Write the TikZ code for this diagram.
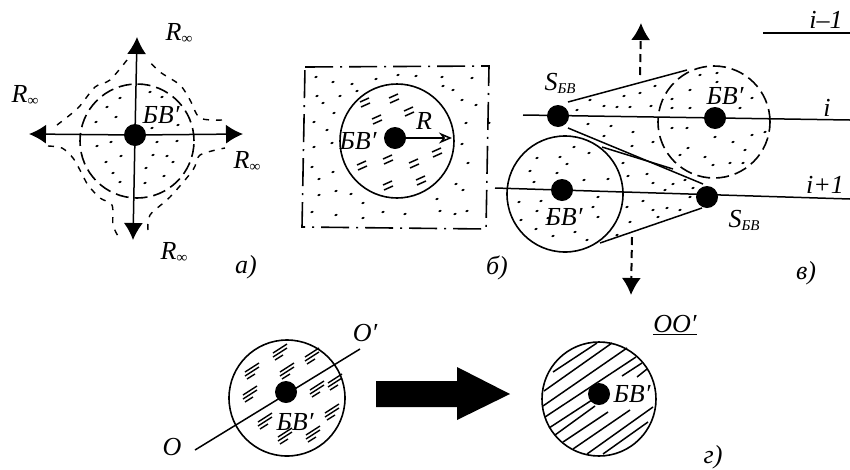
\documentclass[tikz,border=0pt]{standalone}
\usepackage{fontspec}
\setmainfont{Liberation Serif}
\usetikzlibrary{arrows.meta, positioning, calc}
\newcommand{\Rinf}{\textit{R}{\fontsize{15}{15}\selectfont\raisebox{-3pt}{\textit{∞}}}}
\newcommand{\Ssub}{\textit{S}{\fontsize{15}{15}\selectfont\raisebox{-3pt}{\textit{БВ}}}}
\newcommand{\BVp}{\textit{БВ′}}
\tikzset{
  lab/.style={inner sep=0pt, font=\fontsize{26}{26}\selectfont\itshape},
  core/.style={circle, fill=black, inner sep=0pt, minimum size=22pt},
  ring/.style={circle, draw, line width=1.6pt, inner sep=0pt},
  dashring/.style={ring, dash pattern=on 13pt off 6pt},
  ax/.style={line width=1.5pt},
  bigtip/.style={-{Latex[length=17pt, width=19pt]}},
  edge/.style={dash pattern=on 6pt off 7pt, line width=1.4pt},
  box/.style={line width=1.6pt, dash pattern=on 28pt off 7pt on 2pt off 7pt},
  speck/.style={line width=1.8pt, line cap=round}
}
\begin{document}
\begin{tikzpicture}[x=1pt, y=-1pt, >=Stealth]
  \useasboundingbox (0,0) rectangle (850,469);
  % a)
  \node[core] (dotA) at (135,135) {};
  \node[dashring, minimum size=114pt] (ringA) at (137,141) {};
  \coordinate (upA) at (137,37);
  \coordinate (leftA) at (29,134);
  \coordinate (rightA) at (243,134);
  \coordinate (downA) at (133,240);
  \draw[ax, bigtip] (dotA) -- (upA);
  \draw[ax, bigtip] (dotA) -- (leftA);
  \draw[ax, bigtip] (dotA) -- (rightA);
  \draw[ax, bigtip] (dotA) -- (downA);
  \draw[edge] plot[smooth] coordinates {(127,60) (110,80) (95,87) (78,108) (57,125)};
  \draw[edge] plot[smooth] coordinates {(48,146) (62,148) (73,158) (81,172) (88,185) (100,198) (112,205) (113,225) (118,236)};
  \draw[edge] plot[smooth] coordinates {(148,230) (150,215) (170,197) (193,170) (200,155) (225,148)};
  \draw[edge] plot[smooth] coordinates {(222,120) (200,118) (190,100) (180,85) (160,72) (148,60)};
  \foreach \x/\y in {150/92,162/97,120/98,107/107,116/117,96/122,152/128,178/125,97/146,111/142,121/156,106/162,113/173,120/182,145/183,146/168,153/155,167/156,173/162,164/176,177/141,157/142}
    \draw[speck] (\x-0.7,\y+0.3) -- (\x+0.7,\y-0.3);
  \node[lab] at (179,33) {\Rinf};
  \node[lab] at (25,95) {\Rinf};
  \node[lab] at (247,161) {\Rinf};
  \node[lab] at (174,252) {\Rinf};
  \node[lab] at (161,115) {\BVp};
  \node[lab] at (246,267) {а)};
  % b)
  \coordinate (boxA) at (305,67);
  \coordinate (boxB) at (489,66);
  \coordinate (boxC) at (486,229);
  \coordinate (boxD) at (302,227);
  \draw[box] (boxA) -- (boxB) -- (boxC) -- (boxD) -- cycle;
  \node[ring, minimum size=114pt] (ringB) at (397,141) {};
  \node[core] (dotB) at (395,138) {};
  \coordinate (tipB) at (452,138);
  \draw[ax, ->, >={Stealth[open, length=13pt, width=11pt]}] (dotB) -- (tipB);
  \foreach \x/\y in {316/77,333/82,352/84,376/79,398/75,416/76,442/77,472/78,443/86,453/90,317/96,340/96,323/103,357/91,462/100,476/105,334/113,314/122,327/130,466/123,489/123,332/143,314/147,462/144,312/167,333/172,319/179,468/163,456/184,463/190,319/195,336/191,351/194,363/203,437/199,312/212,336/215,363/218,383/212,405/214,440/211,455/214,467/211}
    \draw[speck] (\x-0.7,\y+0.3) -- (\x+0.7,\y-0.3);
  \foreach \x/\y in {365/103,394/99,409/112,377/120,437/153,388/160,414/164,362/166,388/186,421/181}{
    \draw[line width=1.5pt] (\x-5,\y-1) -- (\x+4,\y-5);
    \draw[line width=1.5pt] (\x-4,\y+4) -- (\x+5,\y);
  }
  \node[lab] at (424,121) {\textit{R}};
  \node[lab] at (358,141) {\BVp};
  \node[lab] at (497,268) {б)};
  % c)
  \coordinate (lineIa) at (523,115);
  \coordinate (lineIb) at (850,120);
  \coordinate (lineJa) at (495,188);
  \coordinate (lineJb) at (850,199);
  \coordinate (lineKa) at (763,33);
  \coordinate (lineKb) at (850,33);
  \draw[ax] (lineIa) -- (lineIb);
  \draw[ax] (lineJa) -- (lineJb);
  \draw[ax] (lineKa) -- (lineKb);
  \node[core] (srcA) at (558,116) {};
  \node[core] (dotC) at (715,118) {};
  \node[core] (srcB) at (707,197) {};
  \node[core] (dotD) at (562,190) {};
  \node[dashring, minimum size=112pt] (ringC) at (714,122) {};
  \node[ring, minimum size=116pt] (ringD) at (565,194) {};
  \coordinate (coneA) at (568,102);
  \coordinate (coneB) at (687,70);
  \coordinate (coneC) at (568,128);
  \coordinate (coneD) at (703,184);
  \coordinate (coneE) at (602,147);
  \coordinate (coneF) at (673,169);
  \coordinate (coneG) at (600,243);
  \coordinate (coneH) at (702,208);
  \draw[ax] (coneA) -- (coneB);
  \draw[ax] (coneC) -- (coneD);
  \draw[ax] (coneE) -- (coneF);
  \draw[ax] (coneG) -- (coneH);
  \coordinate (riseA) at (640,75);
  \coordinate (riseB) at (641,23);
  \coordinate (fallA) at (632,237);
  \coordinate (fallB) at (631,295);
  \draw[line width=2pt, dash pattern=on 8pt off 5pt, bigtip] (riseA) -- (riseB);
  \draw[line width=2pt, dash pattern=on 8pt off 5pt, bigtip] (fallA) -- (fallB);
  \foreach \x/\y in {590/100,604/106,617/107,630/107,624/96,640/93,655/86,651/106,577/110,588/124,611/126,633/132,604/136,632/146,653/142,672/128,687/128,672/99,690/108,672/108,690/90,700/75,717/73,717/82,752/98,740/108,733/142,715/137,752/135,765/132,745/150,705/157,713/165,730/163,743/163,680/155,688/148,574/147,560/157,567/164,589/153,537/158,530/171,557/173,534/182,584/180,608/179,519/202,541/201,537/211,521/220,548/218,598/197,593/207,598/217,575/232,553/236,536/229,587/240,623/163,628/176,647/174,653/183,673/184,685/180,693/188,665/190,643/201,653/210,667/208,680/210,630/222,658/217,617/235,627/207,690/197}
    \draw[speck] (\x-0.7,\y+0.3) -- (\x+0.7,\y-0.3);
  \node[lab] at (560,83) {\Ssub};
  \node[lab] at (744,220) {\Ssub};
  \node[lab] at (725,96) {\BVp};
  \node[lab] at (564,217) {\BVp};
  \node[lab] at (826,20) {\textit{i}–1};
  \node[lab] at (827,108) {\textit{i}};
  \node[lab] at (825,185) {\textit{i}+1};
  \node[lab] at (806,273) {в)};
  % d)
  \node[ring, minimum size=116pt] (ringE) at (287,398) {};
  \coordinate (axisA) at (195,450);
  \coordinate (axisB) at (360,349);
  \draw[ax] (axisA) -- (axisB);
  \node[core] (dotE) at (286,392) {};
  \foreach \x/\y in {280/353,312/357,252/372,287/372,250/395,317/390,265/422,285/437,313/435,332/413,335/383}{
    \draw[line width=1.4pt] (\x-7,\y) -- (\x+7,\y-9);
    \draw[line width=1.4pt] (\x-7,\y+4) -- (\x+7,\y-5);
    \draw[line width=1.4pt] (\x-5,\y+7) -- (\x+3,\y+2);
  }
  \node[lab] at (172,447) {\textit{O}};
  \node[lab] at (365,333) {\textit{O′}};
  \node[lab] at (295,422) {\BVp};
  % arrow
  \fill (376,381) -- (457,381) -- (457,367) -- (510,394) -- (457,420) -- (457,407) -- (376,407) -- cycle;
  % e)
  \node[ring, minimum size=114pt] (ringF) at (599,399) {};
  \foreach \xa/\ya/\xb/\yb in {553/372/597/343,544/391/612/343,543/406/627/348,545/417/636/357,549/428/592/400,555/435/595/406,563/442/608/412,573/449/630/410,587/454/653/407,603/454/648/422,622/376/642/363,637/377/647/369}
    \draw[line width=1.5pt] (\xa,\ya) -- (\xb,\yb);
  \node[core] (dotF) at (599,394) {};
  \node[lab] at (632,394) {\BVp};
  \node[lab] at (675,325) {\underline{\textit{OO′}}};
  \node[lab] at (713,457) {г)};
\end{tikzpicture}
\end{document}
